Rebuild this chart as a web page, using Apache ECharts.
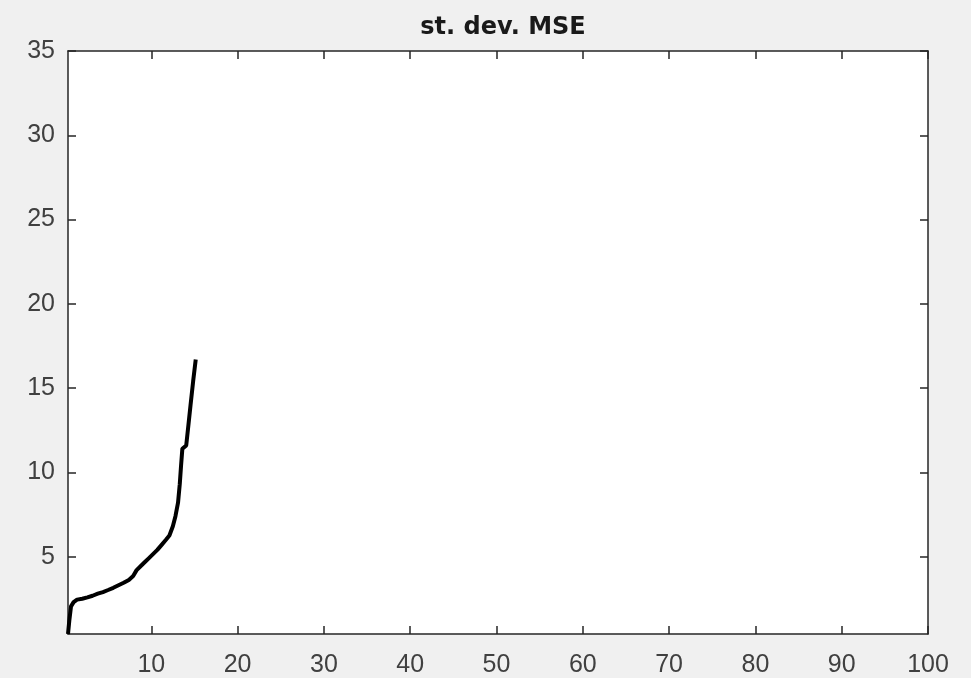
<!DOCTYPE html>
<html>
<head>
<meta charset="utf-8">
<script src="https://cdn.jsdelivr.net/npm/echarts@6/dist/echarts.min.js"></script>
<style>
  html, body { margin: 0; padding: 0; background: #f0f0f0; }
  #chart { width: 971px; height: 678px; }
</style>
</head>
<body>
<div id="chart"></div>
<script>
// Standard deviation of the MSE, plotted against the x value
const xValues = [0.35, 0.5, 0.7, 1.0, 1.4, 2.0, 2.6, 3.2, 3.8, 4.4, 5.0, 5.6, 6.2, 6.8, 7.4, 7.9,
  8.3, 8.7, 9.2, 9.7, 10.2, 10.7, 11.2, 11.7, 12.1, 12.5, 12.8, 13.1, 13.3, 13.45, 13.6, 14.05,
  14.3, 14.55, 14.85, 15.15];
const yValues = [0.41, 1.2, 2.05, 2.3, 2.45, 2.5, 2.58, 2.68, 2.8, 2.9, 3.02, 3.15, 3.3, 3.45, 3.62, 3.85,
  4.2, 4.4, 4.65, 4.9, 5.15, 5.4, 5.7, 6.0, 6.25, 6.8, 7.4, 8.2, 9.3, 10.4, 11.4, 11.6,
  12.8, 14.0, 15.4, 16.7];
const xTicks = [10, 20, 30, 40, 50, 60, 70, 80, 90, 100];
const yTicks = [5, 10, 15, 20, 25, 30, 35];
const titleText = 'st. dev. MSE';

const xMin = 0.35, xMax = 100, yMin = 0.41, yMax = 35;
const axisColor = '#262626';
const labelColor = '#404040';
const fontFamily = '"Liberation Sans", Arial, Helvetica, sans-serif';

const points = xValues.map((x, i) => [x, yValues[i]]);

function xAxisDef(pos, showLabels) {
  return {
    type: 'value', position: pos, min: xMin, max: xMax,
    axisLine: { show: true, onZero: false, lineStyle: { color: axisColor, width: 1.5 } },
    axisTick: { show: true, inside: true, length: 8, customValues: xTicks,
      lineStyle: { color: axisColor, width: 1.5 } },
    axisLabel: { show: showLabels, customValues: xTicks, color: labelColor, fontSize: 25,
      fontFamily: fontFamily, margin: 19 },
    splitLine: { show: false }
  };
}
function yAxisDef(pos, showLabels) {
  return {
    type: 'value', position: pos, min: yMin, max: yMax,
    axisLine: { show: true, onZero: false, lineStyle: { color: axisColor, width: 1.5 } },
    axisTick: { show: true, inside: true, length: 8, customValues: yTicks,
      lineStyle: { color: axisColor, width: 1.5 } },
    axisLabel: { show: showLabels, customValues: yTicks, color: labelColor, fontSize: 25,
      fontFamily: fontFamily, margin: 13 },
    splitLine: { show: false }
  };
}

const chart = echarts.init(document.getElementById('chart'), null, { renderer: 'canvas' });
chart.setOption({
  backgroundColor: '#f0f0f0',
  animation: false,
  title: {
    text: titleText, left: 498, top: 11, textAlign: 'center',
    textStyle: { fontFamily: '"DejaVu Sans", sans-serif', fontWeight: 'bold', fontSize: 24, color: '#1a1a1a' }
  },
  grid: {
    left: 68, right: 43, top: 51, bottom: 43,
    show: true, backgroundColor: '#ffffff', borderWidth: 0
  },
  xAxis: [xAxisDef('bottom', true), xAxisDef('top', false)],
  yAxis: [yAxisDef('left', true), yAxisDef('right', false)],
  series: [{
    type: 'line', xAxisIndex: 0, yAxisIndex: 0, data: points,
    showSymbol: false, symbol: 'none',
    lineStyle: { color: '#000000', width: 4 }
  }]
});
</script>
</body>
</html>
